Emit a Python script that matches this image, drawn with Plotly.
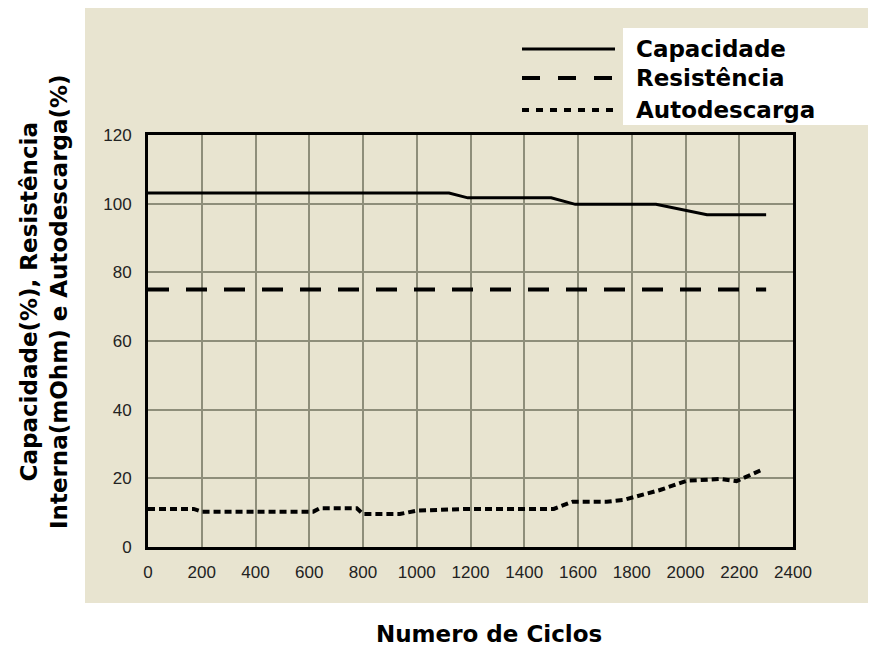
import plotly.graph_objects as go

# ---- data ----
cap_x = [0, 1120, 1190, 1500, 1590, 1890, 2080, 2300]
cap_y = [103.1, 103.1, 101.7, 101.7, 99.8, 99.8, 96.8, 96.8]

res_x = [0, 2300]
res_y = [75, 75]

auto_x = [0, 170, 200, 615, 640, 777, 800, 937, 1000, 1190, 1510, 1580, 1707, 1768, 1806, 1905, 2005, 2130, 2190, 2290]
auto_y = [11.1, 11.1, 10.3, 10.3, 11.3, 11.3, 9.6, 9.6, 10.6, 11.1, 11.1, 13.2, 13.2, 13.7, 14.5, 16.6, 19.3, 19.8, 19.2, 22.7]

series_names = ["Capacidade", "Resistência", "Autodescarga"]
x_ticks = list(range(0, 2401, 200))
y_ticks = list(range(0, 121, 20))
x_title = "Numero de Ciclos"
y_title = "Capacidade(%), Resistência<br>Interna(mOhm) e Autodescarga(%)"

# ---- layout geometry (screen pixels; page body has an 8px margin) ----
OFF = 8
SW, SH = 876, 648
W, H = SW - OFF, SH - OFF
L, R, T, B = 148, 793, 135, 547
pw, ph = R - L, B - T


def px(x):
    return (x - L) / pw


def py(y):
    return (B - y) / ph


dashes = ["solid", "21px,17px", "7px,4px"]
widths = [3, 4, 4]

fig = go.Figure()
for xs, ys, name, d, w in zip([cap_x, res_x, auto_x], [cap_y, res_y, auto_y], series_names, dashes, widths):
    fig.add_trace(go.Scatter(x=xs, y=ys, mode="lines", name=name,
                             line=dict(color="#000000", width=w, dash=d),
                             showlegend=False))

bg = "#E8E4D0"
shapes = [
    dict(type="rect", xref="paper", yref="paper", layer="below",
         x0=px(85), x1=px(880), y0=py(603), y1=py(5),
         fillcolor=bg, line=dict(width=0)),
    dict(type="rect", xref="paper", yref="paper", layer="below",
         x0=px(623), x1=px(880), y0=py(125), y1=py(28),
         fillcolor="#FFFFFF", line=dict(width=0)),
]
leg_y = [49, 78, 110]
leg_dash = ["solid", "18px,18px", "7px,7px"]
annotations = []
title_font = dict(family="DejaVu Sans", size=23, color="#000000", weight="bold")
for name, yy, d, w in zip(series_names, leg_y, leg_dash, widths):
    shapes.append(dict(type="line", xref="paper", yref="paper",
                       x0=px(522), x1=px(615), y0=py(yy), y1=py(yy),
                       line=dict(color="#000000", width=w, dash=d)))
    annotations.append(dict(xref="paper", yref="paper", x=px(634), y=py(yy),
                            xanchor="left", yanchor="middle", showarrow=False,
                            text=name, font=title_font))

annotations.append(dict(xref="paper", yref="paper", x=px(489), y=py(634),
                        xanchor="center", yanchor="middle", showarrow=False,
                        text=x_title, font=title_font))
annotations.append(dict(xref="paper", yref="paper", x=px(44), y=py(302),
                        xanchor="center", yanchor="middle", showarrow=False,
                        textangle=-90, text=y_title, font=title_font))

axis_common = dict(showline=True, mirror=True, linecolor="#000000", linewidth=3,
                   showgrid=True, gridcolor="#8E8E7A", gridwidth=2,
                   zeroline=False, ticks="",
                   tickfont=dict(family="Liberation Sans, Arial", size=17, color="#222222"))

fig.update_layout(
    width=W, height=H,
    margin=dict(l=L - OFF, r=W - (R - OFF), t=T - OFF, b=H - (B - OFF)),
    paper_bgcolor="#FFFFFF", plot_bgcolor="#FFFFFF",
    xaxis=dict(range=[0, 2400], tickvals=x_ticks, ticklabelstandoff=8, **axis_common),
    yaxis=dict(range=[0, 120], tickvals=y_ticks, ticklabelstandoff=10, **axis_common),
    shapes=shapes, annotations=annotations,
    showlegend=False,
)

fig.write_html("out.html")
